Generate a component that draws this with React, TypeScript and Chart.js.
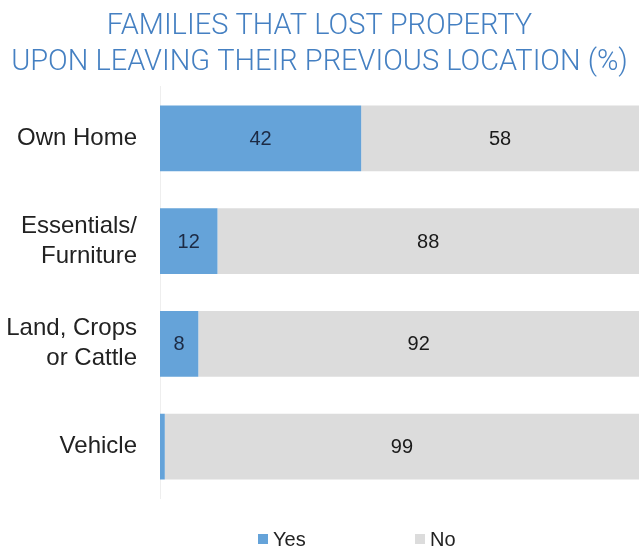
import React, { useEffect, useRef } from "react";
import { Chart, registerables } from "chart.js";

Chart.register(...registerables);

const categories: (string | string[])[] = [
  "Own Home",
  ["Essentials/", "Furniture"],
  ["Land, Crops", "or Cattle"],
  "Vehicle",
];
const yesValues = [42, 12, 8, 1];
const noValues = [58, 88, 92, 99];
const seriesNames = ["Yes", "No"];
const titleLines = ["FAMILIES THAT LOST PROPERTY", "UPON LEAVING THEIR PREVIOUS LOCATION (%)"];

const BLUE = "#65a3d9";
const GRAY = "#dcdcdc";
const FONT = "'Liberation Sans', Arial, Helvetica, sans-serif";

const valueLabelPlugin = {
  id: "valueLabels",
  afterDatasetsDraw(chart: any) {
    const ctx = chart.ctx;
    ctx.save();
    ctx.font = `20px ${FONT}`;
    ctx.textAlign = "center";
    ctx.textBaseline = "middle";
    chart.data.datasets.forEach((ds: any, di: number) => {
      const meta = chart.getDatasetMeta(di);
      meta.data.forEach((bar: any, i: number) => {
        const v = ds.data[i];
        if (v < 3) return;
        const cx = (bar.x + bar.base) / 2;
        ctx.fillStyle = di === 0 ? "#1c2a44" : "#1a1a1a";
        ctx.fillText(String(v), cx, bar.y + 1);
      });
    });
    ctx.restore();
  },
};

const customLegendPlugin = {
  id: "customLegend",
  afterDraw(chart: any) {
    const ctx = chart.ctx;
    ctx.save();
    ctx.font = `20px ${FONT}`;
    ctx.textBaseline = "middle";
    ctx.textAlign = "left";
    const y = chart.height - 10;
    const starts = [258, 415];
    chart.data.datasets.forEach((ds: any, di: number) => {
      const x = starts[di];
      ctx.fillStyle = ds.backgroundColor;
      ctx.fillRect(x, y - 6, 10, 10);
      ctx.fillStyle = "#222";
      ctx.fillText(ds.label, x + 15, y);
    });
    ctx.restore();
  },
};

export default function App() {
  const ref = useRef<HTMLCanvasElement>(null);
  useEffect(() => {
    document.body.style.margin = "0";
    const chart = new Chart(ref.current!, {
      type: "bar",
      data: {
        labels: categories,
        datasets: [
          { label: seriesNames[0], data: yesValues, backgroundColor: BLUE, borderWidth: 0 },
          { label: seriesNames[1], data: noValues, backgroundColor: GRAY, borderWidth: 0 },
        ],
      },
      options: {
        indexAxis: "y",
        animation: false,
        responsive: false,
        maintainAspectRatio: false,
        layout: { padding: { top: 0, right: 5, bottom: 52, left: 0 } },
        categoryPercentage: 1,
        barPercentage: 0.64,
        scales: {
          x: {
            stacked: true,
            min: 0,
            max: 100,
            display: false,
            grid: { display: false },
          },
          y: {
            stacked: true,
            grid: { display: false, drawTicks: false },
            border: { display: true, color: "#eeeeee", width: 1 },
            afterFit(scale: any) {
              scale.width = 160;
            },
            ticks: {
              color: "#222",
              padding: 23,
              font: { family: FONT, size: 24, lineHeight: 1.25 },
            },
          },
        },
        plugins: {
          legend: { display: false },
          tooltip: { enabled: false },
          title: {
            display: true,
            text: titleLines,
            color: "#4580c2",
            font: { family: "Roboto, 'Liberation Sans', sans-serif", size: 29, weight: "300", lineHeight: 1.24 },
            padding: { top: 9, bottom: 6 },
          },
        },
      } as any,
      plugins: [valueLabelPlugin, customLegendPlugin],
    });
    return () => chart.destroy();
  }, []);
  return (
    <div style={{ width: 644, height: 550, background: "#fff" }}>
      <canvas ref={ref} width={644} height={550} style={{ display: "block" }} />
    </div>
  );
}
